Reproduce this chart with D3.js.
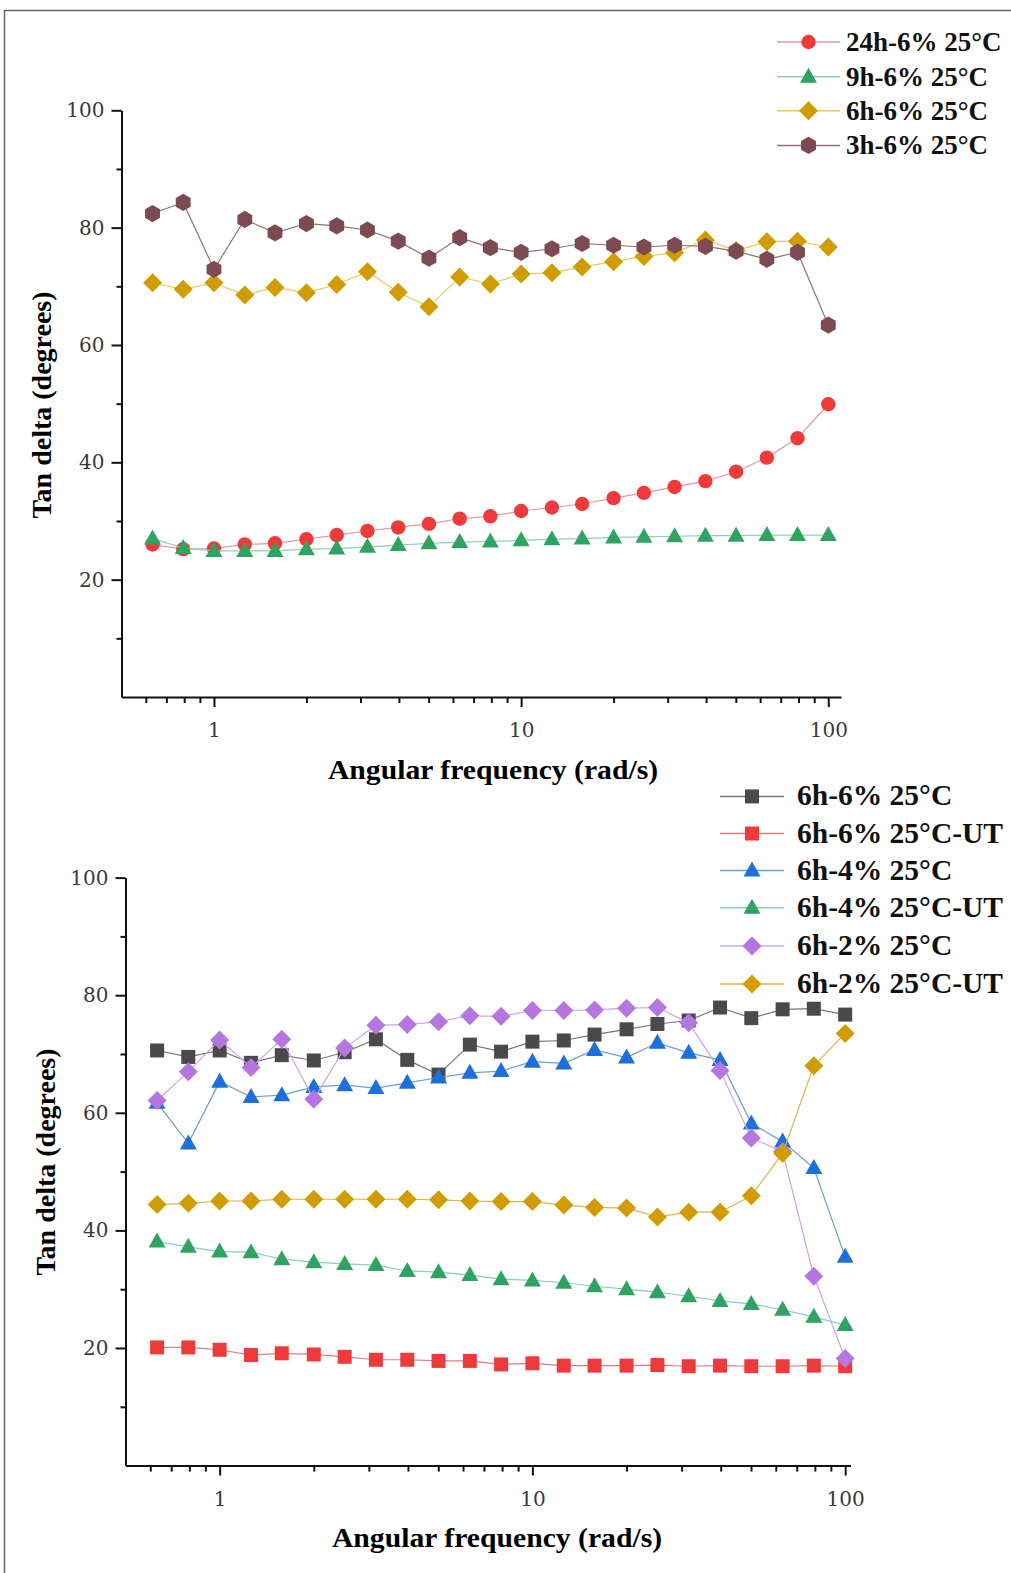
<!DOCTYPE html>
<html>
<head>
<meta charset="utf-8">
<script src="https://cdn.jsdelivr.net/npm/d3@7"></script>
<style>
  body { margin: 0; background: #fff; }
  svg text { font-family: "Liberation Serif", "Times New Roman", serif; }
</style>
</head>
<body>
<div id="chart"></div>
<script>
// angular frequency (rad/s), shared by every series
var freq = [0.631, 0.794, 1, 1.26, 1.58, 2, 2.51, 3.16, 3.98, 5.01, 6.31, 7.94,
            10, 12.6, 15.8, 20, 25.1, 31.6, 39.8, 50.1, 63.1, 79.4, 100];

// top panel: tan delta (degrees)
var tan24h6 = [26.0, 25.2, 25.3, 26.0, 26.2, 26.9, 27.6, 28.3, 28.9, 29.5, 30.4, 30.8,
               31.7, 32.3, 32.9, 33.9, 34.8, 35.8, 36.8, 38.4, 40.8, 44.1, 49.9];
var tan9h6 = [27.0, 25.4, 24.9, 24.9, 24.9, 25.2, 25.3, 25.6, 25.9, 26.2, 26.4, 26.5,
              26.7, 26.9, 27.0, 27.2, 27.3, 27.4, 27.5, 27.5, 27.6, 27.6, 27.6];
var tan6h6 = [70.6, 69.5, 70.6, 68.5, 69.8, 68.9, 70.3, 72.5, 69.0, 66.5, 71.6, 70.4,
              72.1, 72.3, 73.3, 74.2, 75.1, 75.7, 77.9, 76.1, 77.6, 77.7, 76.7];
var tan3h6 = [82.4, 84.3, 72.9, 81.4, 79.1, 80.7, 80.3, 79.6, 77.7, 74.8, 78.3, 76.6,
              75.8, 76.4, 77.3, 77.0, 76.7, 77.0, 76.8, 76.0, 74.6, 75.8, 63.4];

// bottom panel
var tan6h6UT = [20.1, 20.1, 19.7, 18.8, 19.1, 18.9, 18.5, 18.0, 18.0, 17.8, 17.8, 17.2,
                17.4, 17.0, 17.0, 17.0, 17.1, 16.9, 17.0, 16.9, 16.9, 17.0, 16.9];
var tan6h4 = [61.7, 54.8, 65.3, 62.7, 63.0, 64.4, 64.7, 64.2, 65.1, 66.0, 66.8, 67.1,
              68.7, 68.4, 70.7, 69.4, 71.9, 70.2, 69.0, 58.2, 55.1, 50.6, 35.5];
var tan6h4UT = [38.1, 37.2, 36.4, 36.3, 35.1, 34.6, 34.3, 34.1, 33.1, 32.9, 32.4, 31.7,
                31.5, 31.1, 30.5, 30.0, 29.5, 28.8, 28.0, 27.5, 26.5, 25.3, 23.9];
var tan6h2 = [62.1, 67.0, 72.4, 67.7, 72.5, 62.3, 71.0, 74.9, 75.0, 75.5, 76.5, 76.4,
              77.4, 77.4, 77.5, 77.8, 77.9, 75.3, 67.2, 55.7, 53.4, 32.2, 18.2];
var tan6h2UT = [44.4, 44.6, 45.0, 45.0, 45.3, 45.3, 45.3, 45.3, 45.3, 45.2, 45.0, 44.9,
                44.9, 44.3, 43.9, 43.8, 42.3, 43.1, 43.1, 45.9, 53.1, 68.0, 73.5];

var topNames = ["24h-6% 25°C", "9h-6% 25°C", "6h-6% 25°C", "3h-6% 25°C"];
var bottomNames = ["6h-6% 25°C", "6h-6% 25°C-UT", "6h-4% 25°C", "6h-4% 25°C-UT", "6h-2% 25°C", "6h-2% 25°C-UT"];

var yTicks = [20, 40, 60, 80, 100];
var yMinor = [10, 30, 50, 70, 90];
var xTicks = [1, 10, 100];
var xMinor = [0.6, 0.7, 0.8, 0.9, 2, 3, 4, 5, 6, 7, 8, 9, 20, 30, 40, 50, 60, 70, 80, 90];

var W = 1011, H = 1573;
var svg = d3.select("#chart").append("svg")
    .attr("width", W)
    .attr("height", H);

// thin frame round the figure
svg.append("rect")
    .attr("x", 4.5).attr("y", 10.5)
    .attr("width", 1100).attr("height", 1700)
    .attr("fill", "none")
    .attr("stroke", "#666")
    .attr("stroke-width", 1.5);

// marker shapes
function markerPath(shape) {
    if (shape == "circle") return d3.symbol(d3.symbolCircle, Math.PI * 7.2 * 7.2)();
    if (shape == "square") return "M-7,-7H7V7H-7Z";
    if (shape == "triangle") return "M0,-9L8.5,6L-8.5,6Z";
    if (shape == "diamond") return "M0,-9.5L9.5,0L0,9.5L-9.5,0Z";
    if (shape == "hexagon") {
        var pts = d3.range(6).map(function (k) {
            var a = -Math.PI / 2 + k * Math.PI / 3;
            return [8.6 * Math.cos(a), 8.6 * Math.sin(a)];
        });
        return "M" + pts.join("L") + "Z";
    }
}

function drawPanel(cfg) {
    var x = d3.scaleLog().domain(cfg.xDomain).range(cfg.xRange);
    var y = d3.scaleLinear().domain([0, 100]).range(cfg.yRange);
    var g = svg.append("g");

    // axes
    g.append("g")
        .attr("transform", "translate(" + cfg.xRange[0] + ",0)")
        .call(d3.axisLeft(y).tickValues(yTicks).tickSize(10).tickPadding(7).tickSizeOuter(0));
    g.append("g")
        .attr("transform", "translate(" + cfg.xRange[0] + ",0)")
        .call(d3.axisLeft(y).tickValues(yMinor).tickSize(5).tickFormat("").tickSizeOuter(0))
        .select(".domain").remove();
    g.append("g")
        .attr("transform", "translate(0," + cfg.yRange[0] + ")")
        .call(d3.axisBottom(x).tickValues(xTicks).tickFormat(d3.format("d")).tickSize(10).tickPadding(16).tickSizeOuter(0));
    g.append("g")
        .attr("transform", "translate(0," + cfg.yRange[0] + ")")
        .call(d3.axisBottom(x).tickValues(xMinor).tickSize(6).tickFormat("").tickSizeOuter(0))
        .select(".domain").remove();

    g.selectAll(".domain, .tick line").attr("stroke", "#111").attr("stroke-width", 2);
    g.selectAll(".tick text")
        .style("font-family", "'DejaVu Serif', serif")
        .style("font-size", "20px")
        .attr("fill", "#3a3a3a");

    // axis titles (the source figure is slightly stretched sideways)
    g.append("text")
        .attr("transform", "translate(" + cfg.xTitleX + "," + cfg.xTitleY + ") scale(1.06,1)")
        .attr("text-anchor", "middle")
        .style("font-size", "28px")
        .style("font-weight", "bold")
        .text("Angular frequency (rad/s)");
    g.append("text")
        .attr("transform", "translate(" + cfg.yTitleX + "," + cfg.yTitleY + ") rotate(-90)")
        .attr("text-anchor", "middle")
        .style("font-size", "28px")
        .style("font-weight", "bold")
        .text("Tan delta (degrees)");

    // series
    var line = d3.line()
        .x(function (d) { return x(d[0]); })
        .y(function (d) { return y(d[1]); });
    cfg.series.forEach(function (s) {
        var pts = freq.map(function (f, i) { return [f, s.values[i]]; });
        g.append("path")
            .attr("d", line(pts))
            .attr("fill", "none")
            .attr("stroke", s.line)
            .attr("stroke-width", 1.2);
        g.selectAll(null)
            .data(pts)
            .enter()
            .append("path")
            .attr("transform", function (d) { return "translate(" + x(d[0]) + "," + y(d[1]) + ")"; })
            .attr("d", markerPath(s.shape))
            .attr("fill", s.color);
    });

    // legend
    var lg = svg.append("g");
    cfg.series.forEach(function (s, i) {
        var ly = cfg.legendY[i];
        lg.append("line")
            .attr("x1", cfg.legendX[0]).attr("x2", cfg.legendX[1])
            .attr("y1", ly).attr("y2", ly)
            .attr("stroke", s.line)
            .attr("stroke-width", 1.5);
        lg.append("path")
            .attr("transform", "translate(" + (cfg.legendX[0] + cfg.legendX[1]) / 2 + "," + ly + ")")
            .attr("d", markerPath(s.shape))
            .attr("fill", s.color);
        lg.append("text")
            .attr("x", cfg.legendX[2])
            .attr("y", ly + 9)
            .style("font-size", cfg.legendFont + "px")
            .style("font-weight", "bold")
            .attr("fill", "#111")
            .text(s.name);
    });
}

drawPanel({
    xDomain: [0.5, 110],
    xRange: [121.5, 841],
    yRange: [697, 110.3],
    xTitleX: 493,
    xTitleY: 779,
    yTitleX: 51,
    yTitleY: 405,
    legendX: [777, 840, 846],
    legendY: [42, 76.7, 110.8, 145.4],
    legendFont: 27,
    series: [
        { name: topNames[0], values: tan24h6, shape: "circle", color: "#ee3a3a", line: "#e99a9a" },
        { name: topNames[1], values: tan9h6, shape: "triangle", color: "#2ea362", line: "#8fcfbb" },
        { name: topNames[2], values: tan6h6, shape: "diamond", color: "#d19c00", line: "#e9c95a" },
        { name: topNames[3], values: tan3h6, shape: "hexagon", color: "#7c4b52", line: "#8e7277" }
    ]
});

drawPanel({
    xDomain: [0.5, 104],
    xRange: [125.5, 850.5],
    yRange: [1465.6, 877.6],
    xTitleX: 497,
    xTitleY: 1547,
    yTitleX: 55,
    yTitleY: 1162,
    legendX: [720, 784, 797],
    legendY: [796.4, 833.5, 870.6, 907.7, 946, 984],
    legendFont: 29.5,
    series: [
        { name: bottomNames[0], values: tan6h6, shape: "square", color: "#4a4a4a", line: "#777777" },
        { name: bottomNames[1], values: tan6h6UT, shape: "square", color: "#ee3a3a", line: "#e77b7b" },
        { name: bottomNames[2], values: tan6h4, shape: "triangle", color: "#1d6fdc", line: "#6d9fc9" },
        { name: bottomNames[3], values: tan6h4UT, shape: "triangle", color: "#2ea362", line: "#86cfb8" },
        { name: bottomNames[4], values: tan6h2, shape: "diamond", color: "#b576e0", line: "#caa5ef" },
        { name: bottomNames[5], values: tan6h2UT, shape: "diamond", color: "#d19c00", line: "#d9b64e" }
    ]
});
</script>
</body>
</html>
